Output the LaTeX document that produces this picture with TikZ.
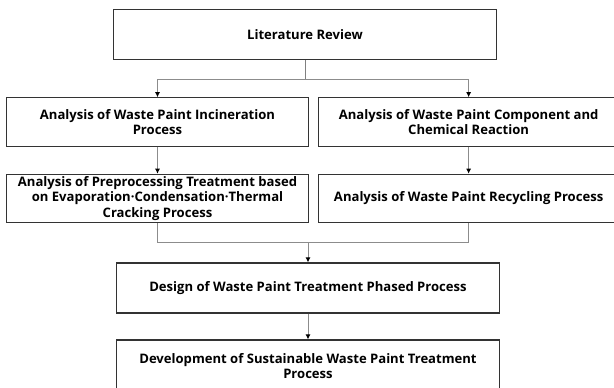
\documentclass[tikz,border=0pt]{standalone}
\usepackage{fontspec}
\setmainfont{Open Sans}
\usetikzlibrary{arrows.meta,positioning}
\definecolor{boxline}{HTML}{333333}
\definecolor{wire}{HTML}{8C8C8C}
\tikzstyle{bigbox} = [rectangle, draw=boxline, line width=0.75pt, align=center, font=\bfseries\fontsize{9.3}{11.2}\selectfont, minimum width=9.55cm, minimum height=1.25cm, inner sep=0pt]
\tikzstyle{halfbox} = [rectangle, draw=boxline, line width=0.75pt, align=center, font=\bfseries\fontsize{9.3}{11.2}\selectfont, minimum width=7.525cm, minimum height=1.21cm, inner sep=0pt]
\tikzstyle{wire} = [draw=wire, line width=0.7pt]
\tikzstyle{line} = [wire, -{Latex[length=3.6pt,width=3.6pt,color=black]}]

\begin{document}
\begin{tikzpicture}[x=0.025cm, y=-0.025cm, node distance=0.675cm]
        \clip (0,0) rectangle (614,388);
        \node [bigbox] (review) at (305,34.5) {Literature Review};
        \node [halfbox] (incin) at (157.5,122) {Analysis of Waste Paint Incineration\\Process};
        \node [halfbox, right=0.225cm of incin] (chem) {Analysis of Waste Paint Component and\\Chemical Reaction};
        \node [halfbox, below=of incin] (prep) {Analysis of Preprocessing Treatment based\\on Evaporation·Condensation·Thermal\\Cracking Process};
        \node [halfbox, below=of chem] (recyc) {Analysis of Waste Paint Recycling Process};
        \node [bigbox] (design) at (308,288) {Design of Waste Paint Treatment Phased Process};
        \node [bigbox, minimum height=1.3cm] (develop) at (308,366) {Development of Sustainable Waste Paint Treatment\\Process};

        \coordinate (fork) at (305,79);
        \coordinate (join) at (308,242);

        \path [wire, draw=gray] (review) -- (fork);
        \path [line] (fork) -| (incin);
        \path [line] (fork) -| (chem);
        \path [line] (incin) -- (prep);
        \path [line] (chem) -- (recyc);
        \path [wire] (prep) |- (join);
        \path [wire] (recyc) |- (join);
        \path [line] (join) -- (design);
        \path [line] (design) -- (develop);
      \end{tikzpicture}
\end{document}
